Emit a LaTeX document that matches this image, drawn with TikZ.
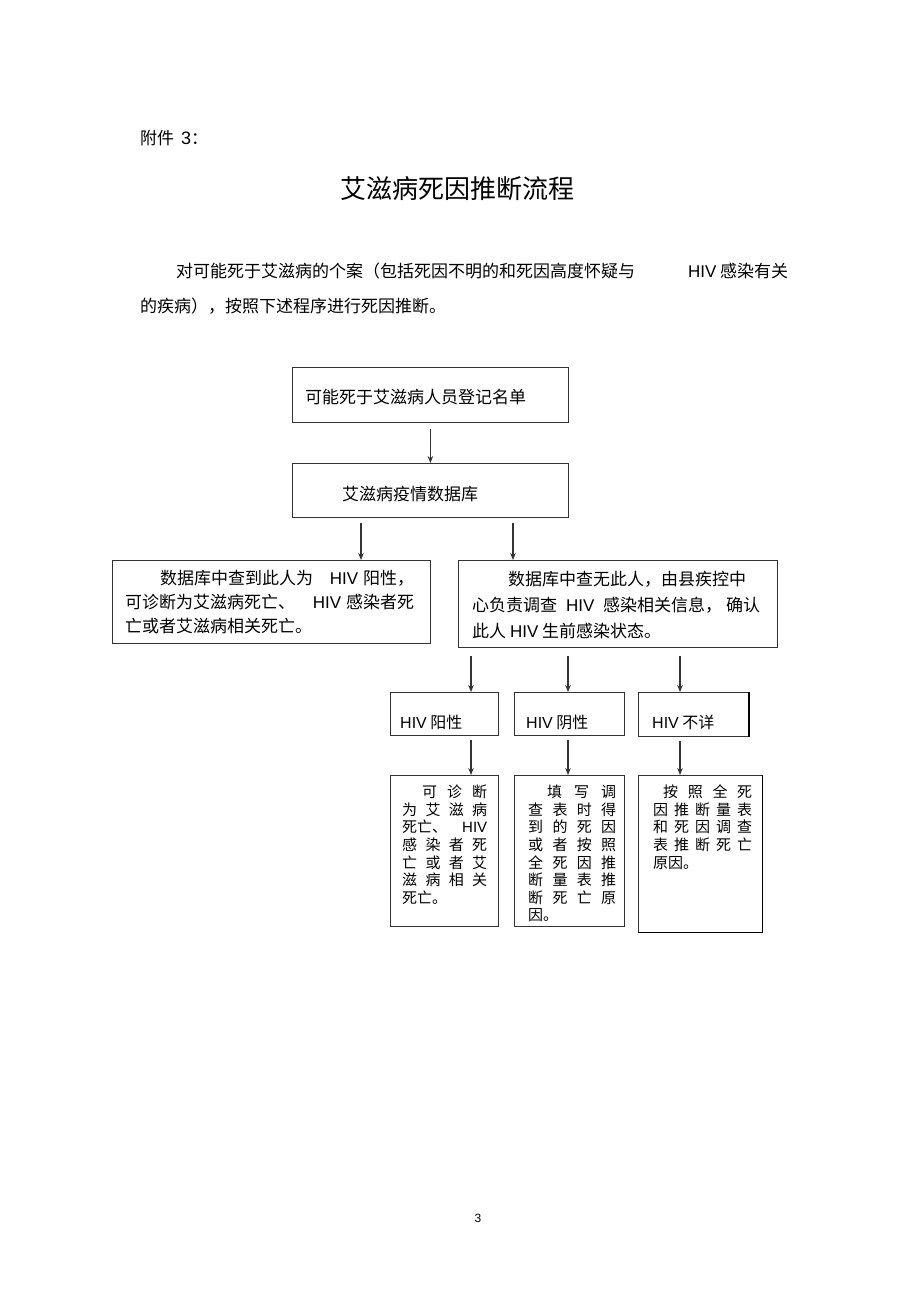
\documentclass[tikz,border=0pt]{standalone}
\usepackage{fontspec}
\setmainfont{Noto Sans CJK SC}
\newfontfamily\lat{Liberation Sans}
\usetikzlibrary{arrows.meta}
\newcommand{\hiv}{{\lat HIV}}
\tikzset{
  box/.style={draw=black!80, line width=0.8pt, inner sep=0pt, anchor=north west},
  arr/.style={draw=black!80, line width=1.1pt, -{Stealth[length=7pt,width=5.5pt]}},
  t17/.style={inner sep=0pt, anchor=base west, font=\fontsize{17}{24}\selectfont},
  t16/.style={inner sep=0pt, anchor=base west, font=\fontsize{16}{20}\selectfont},
  t15/.style={inner sep=0pt, anchor=base west, font=\fontsize{15}{17.6}\selectfont},
}
\begin{document}
\begin{tikzpicture}[x=1pt,y=-1pt]
\useasboundingbox (0,0) rectangle (920,1301);
\fill[white] (0,0) rectangle (920,1301);

% heading and intro
\node[t17] (hdr) at (140,144.5) {附件\hspace{7pt}{\lat\fontsize{18}{24}\selectfont 3}：};
\node[inner sep=0pt, anchor=base, font=\fontsize{26}{30}\selectfont] (title) at (457,198) {艾滋病死因推断流程};
\node[t17] (p1) at (176,277.5) {\hbox to 612pt{对可能死于艾滋病的个案（包括死因不明的和死因高度怀疑与\hfill\hiv\ 感染有关}};
\node[t17] (p2) at (140,312.5) {的疾病），按照下述程序进行死因推断。};

% boxes
\node[box, minimum width=276pt, minimum height=55pt] (a) at (292,367) {};
\node[box, minimum width=276pt, minimum height=54pt] (b) at (292,463) {};
\node[box, minimum width=318pt, minimum height=83pt] (c) at (112,560) {};
\node[box, minimum width=319pt, minimum height=87pt] (d) at (458,560) {};
\node[box, minimum width=108pt, minimum height=43pt] (e) at (390,692) {};
\node[box, minimum width=110pt, minimum height=43pt] (f) at (514,692) {};
\node[box, minimum width=110pt, minimum height=44pt] (g) at (638,692) {};
\node[box, minimum width=108pt, minimum height=151pt] (h) at (390,775) {};
\node[box, minimum width=110pt, minimum height=151pt] (i) at (514,775) {};
\node[box, minimum width=124pt, minimum height=157pt] (j) at (638,775) {};
\draw[line width=2pt, black] (g.north east) -- (g.south east);
\draw[line width=1.3pt, black] (j.north east) -- (j.south east) -- (j.south west);

% box texts
\node[t17] (at) at (305,403.5) {可能死于艾滋病人员登记名单};
\node[t17] (bt) at (342,500.5) {艾滋病疫情数据库};
\node[t17] (ct) at (125,584.5) {\vtop{\baselineskip=24pt
  \hbox to 289pt{\hspace*{35pt}数据库中查到此人为\hfill\hiv\hspace{5pt}阳性，}
  \hbox to 289pt{可诊断为艾滋病死亡、\hfill\hiv\hspace{5pt}感染者死}
  \hbox{亡或者艾滋病相关死亡。}}};
\node[t17] (dt) at (472,585.5) {\vtop{\baselineskip=26pt
  \hbox{\hspace*{36pt}数据库中查无此人，由县疾控中}
  \hbox to 288pt{心负责调查\hfill\hiv\hfill 感染相关信息，\hspace{4pt}确认}
  \hbox{此人 \hiv\ 生前感染状态。}}};
\node[t16] (et) at (400,728) {\hiv\ 阳性};
\node[t16] (ft) at (526,728) {\hiv\ 阴性};
\node[t16] (gt) at (652,728) {\hiv\ 不详};

\node[t15] (ht) at (402,797.7) {\vtop{\baselineskip=17.6pt
  \hbox to 85pt{\hspace*{20pt}可\hfill 诊\hfill 断}
  \hbox to 85pt{为\hfill 艾\hfill 滋\hfill 病}
  \hbox to 85pt{死亡、\hfill\hiv}
  \hbox to 85pt{感\hfill 染\hfill 者\hfill 死}
  \hbox to 85pt{亡\hfill 或\hfill 者\hfill 艾}
  \hbox to 85pt{滋\hfill 病\hfill 相\hfill 关}
  \hbox{死亡。}}};
\node[t15] (it) at (528,797.7) {\vtop{\baselineskip=17.6pt
  \hbox to 88pt{\hspace*{19pt}填\hfill 写\hfill 调}
  \hbox to 88pt{查\hfill 表\hfill 时\hfill 得}
  \hbox to 88pt{到\hfill 的\hfill 死\hfill 因}
  \hbox to 88pt{或\hfill 者\hfill 按\hfill 照}
  \hbox to 88pt{全\hfill 死\hfill 因\hfill 推}
  \hbox to 88pt{断\hfill 量\hfill 表\hfill 推}
  \hbox to 88pt{断\hfill 死\hfill 亡\hfill 原}
  \hbox{因。}}};
\node[t15] (jt) at (653,797.7) {\vtop{\baselineskip=17.6pt
  \hbox to 99pt{\hspace*{10pt}按\hfill 照\hfill 全\hfill 死}
  \hbox to 99pt{因\hfill 推\hfill 断\hfill 量\hfill 表}
  \hbox to 99pt{和\hfill 死\hfill 因\hfill 调\hfill 查}
  \hbox to 99pt{表\hfill 推\hfill 断\hfill 死\hfill 亡}
  \hbox{原因。}}};

\node[inner sep=0pt, anchor=base, font=\lat\fontsize{12}{14}\selectfont] (pg) at (478,1222) {3};

% connectors
\coordinate (c1) at (361,0);
\coordinate (c2) at (513,0);
\coordinate (k1) at (471,0);
\coordinate (k2) at (568,0);
\coordinate (k3) at (680,0);
\draw[arr] ([yshift=-6pt]a.south) -- (b.north);
\draw[arr] ([yshift=-5pt]c1 |- b.south) -- (c1 |- c.north);
\draw[arr] ([yshift=-5pt]c2 |- b.south) -- (c2 |- d.north);
\draw[arr] ([yshift=-8pt]k1 |- d.south) -- (k1 |- e.north);
\draw[arr] ([yshift=-8pt]k2 |- d.south) -- (k2 |- f.north);
\draw[arr] ([yshift=-8pt]k3 |- d.south) -- (k3 |- g.north);
\draw[arr] ([yshift=-4pt]k1 |- e.south) -- (k1 |- h.north);
\draw[arr] ([yshift=-4pt]k2 |- f.south) -- (k2 |- i.north);
\draw[arr] ([yshift=-4pt]k3 |- g.south) -- (k3 |- j.north);
\end{tikzpicture}
\end{document}
